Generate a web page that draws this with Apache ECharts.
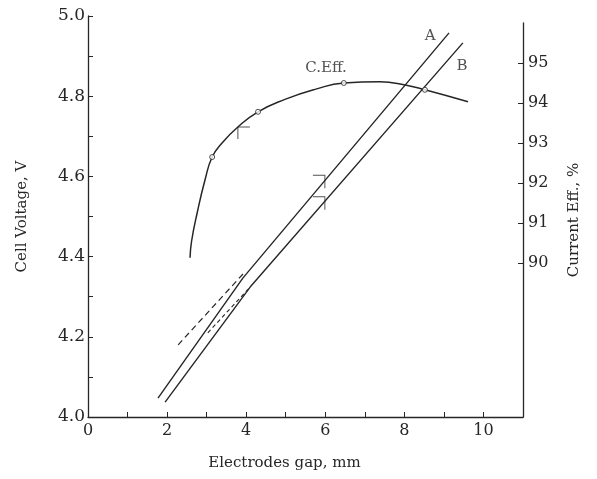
<!DOCTYPE html>
<html>
<head>
<meta charset="utf-8">
<script src="https://cdn.jsdelivr.net/npm/echarts@6/dist/echarts.min.js"></script>
<style>
html,body{margin:0;padding:0;background:#fff;}
#main{width:597px;height:479px;}
</style>
</head>
<body>
<div id="main"></div>
<script>
// Electrodes gap (mm) vs cell voltage (V)
var lineA = [[1.77, 4.047], [3.92, 4.347], [9.13, 4.958]];
var lineB = [[1.95, 4.037], [4.10, 4.324], [9.48, 4.933]];
var dashA = [[2.28, 4.18], [3.97, 4.362]];
var dashB = [[3.03, 4.21], [4.10, 4.324]];
// Current efficiency (%) vs gap
var cEff = [[2.58, 90.13], [2.62, 90.55], [2.76, 91.25], [2.96, 92.08], [3.14, 92.65],
            [3.39, 93.00], [3.79, 93.40], [4.30, 93.78], [4.98, 94.09], [5.74, 94.34],
            [6.47, 94.50], [7.38, 94.53], [8.02, 94.45], [8.52, 94.33], [9.61, 94.03]];
var cEffPoints = [[3.14, 92.65], [4.30, 93.78], [6.47, 94.50], [8.52, 94.33]];
// range marks
var marksAB = [[5.99, 4.603], [5.99, 4.549]];
var marksEff = [[3.79, 93.40]];
// text annotations
var labelsV = [[8.65, 4.95, 'A'], [9.46, 4.875, 'B'], [6.02, 4.870, 'C.Eff.']];
var rightTicks = [90, 91, 92, 93, 94, 95];

var ink = '#262626';
var serif = 'DejaVu Serif';

var chart = echarts.init(document.getElementById('main'), null, {renderer: 'canvas'});
chart.setOption({
  backgroundColor: '#fff',
  animation: false,
  grid: [
    {left: 88, right: 74, top: 16, bottom: 62},
    {left: 88, right: 74, top: 23, bottom: 62}
  ],
  xAxis: [
    {
      gridIndex: 0, type: 'value', min: 0, max: 11, interval: 1,
      name: 'Electrodes gap, mm', nameLocation: 'middle', nameGap: 39,
      nameTextStyle: {fontFamily: serif, fontSize: 15, color: ink, padding: [0, 42, 0, 0]},
      axisLine: {show: true, onZero: false, lineStyle: {color: ink, width: 1.3}},
      axisTick: {show: true, inside: true, length: 5, lineStyle: {color: ink}},
      axisLabel: {
        fontFamily: serif, fontSize: 16, color: ink, margin: 6,
        formatter: function (v) { return (Math.round(v) % 2 === 0) ? String(Math.round(v)) : ''; }
      },
      splitLine: {show: false}
    },
    {gridIndex: 1, type: 'value', min: 0, max: 11, show: false}
  ],
  yAxis: [
    {
      gridIndex: 0, type: 'value', min: 4, max: 5, interval: 0.1, position: 'left',
      name: 'Cell Voltage, V', nameLocation: 'middle', nameGap: 58, nameRotate: 90,
      nameTextStyle: {fontFamily: serif, fontSize: 15, color: ink},
      axisLine: {show: true, onZero: false, lineStyle: {color: ink, width: 1.3}},
      axisTick: {show: true, inside: true, length: 5, lineStyle: {color: ink}},
      axisLabel: {
        fontFamily: serif, fontSize: 17, color: ink, margin: 3,
        formatter: function (v) { var k = Math.round(v * 10); return (k % 2 === 0) ? (k / 10).toFixed(1) : ''; }
      },
      splitLine: {show: false}
    },
    {
      gridIndex: 1, type: 'value', min: 86.15, max: 96, position: 'right',
      name: 'Current Eff., %', nameLocation: 'middle', nameGap: 44, nameRotate: 90,
      nameTextStyle: {fontFamily: serif, fontSize: 15, color: ink},
      axisLine: {show: true, onZero: false, lineStyle: {color: ink, width: 1.3}},
      axisTick: {show: true, inside: true, length: 5, customValues: rightTicks, lineStyle: {color: ink}},
      axisLabel: {fontFamily: serif, fontSize: 16, color: ink, margin: 5, customValues: rightTicks},
      splitLine: {show: false}
    }
  ],
  series: [
    {type: 'line', name: 'A', xAxisIndex: 0, yAxisIndex: 0, data: lineA, symbol: 'none',
     lineStyle: {color: ink, width: 1.4}},
    {type: 'line', name: 'B', xAxisIndex: 0, yAxisIndex: 0, data: lineB, symbol: 'none',
     lineStyle: {color: ink, width: 1.4}},
    {type: 'line', name: 'A ext', xAxisIndex: 0, yAxisIndex: 0, data: dashA, symbol: 'none',
     lineStyle: {color: ink, width: 1.2, type: [6, 4]}},
    {type: 'line', name: 'B ext', xAxisIndex: 0, yAxisIndex: 0, data: dashB, symbol: 'none',
     lineStyle: {color: ink, width: 1.1, type: [4, 3]}},
    {type: 'line', name: 'C.Eff', xAxisIndex: 1, yAxisIndex: 1, data: cEff, symbol: 'none',
     smooth: 0.5, lineStyle: {color: ink, width: 1.5}},
    {type: 'scatter', name: 'C.Eff points', xAxisIndex: 1, yAxisIndex: 1, data: cEffPoints,
     symbol: 'circle', symbolSize: 5, z: 5,
     itemStyle: {color: '#fff', borderColor: ink, borderWidth: 1}},
    {type: 'scatter', name: 'range AB', xAxisIndex: 0, yAxisIndex: 0, data: marksAB,
     symbol: 'path://M0,0 L12,0 L12,13', symbolSize: [12, 13], symbolOffset: [-6, 6.5],
     itemStyle: {color: 'rgba(0,0,0,0)', borderColor: ink, borderWidth: 1}},
    {type: 'scatter', name: 'range Eff', xAxisIndex: 1, yAxisIndex: 1, data: marksEff,
     symbol: 'path://M12,0 L0,0 L0,12', symbolSize: [12, 12], symbolOffset: [6, 6],
     itemStyle: {color: 'rgba(0,0,0,0)', borderColor: ink, borderWidth: 1}},
    {type: 'scatter', name: 'labels', xAxisIndex: 0, yAxisIndex: 0, data: labelsV,
     symbolSize: 1, itemStyle: {color: 'rgba(0,0,0,0)'},
     label: {show: true, position: 'inside', fontFamily: serif, fontSize: 15, color: ink,
       formatter: function (p) { return p.data[2]; }}}
  ]
});
</script>
</body>
</html>
